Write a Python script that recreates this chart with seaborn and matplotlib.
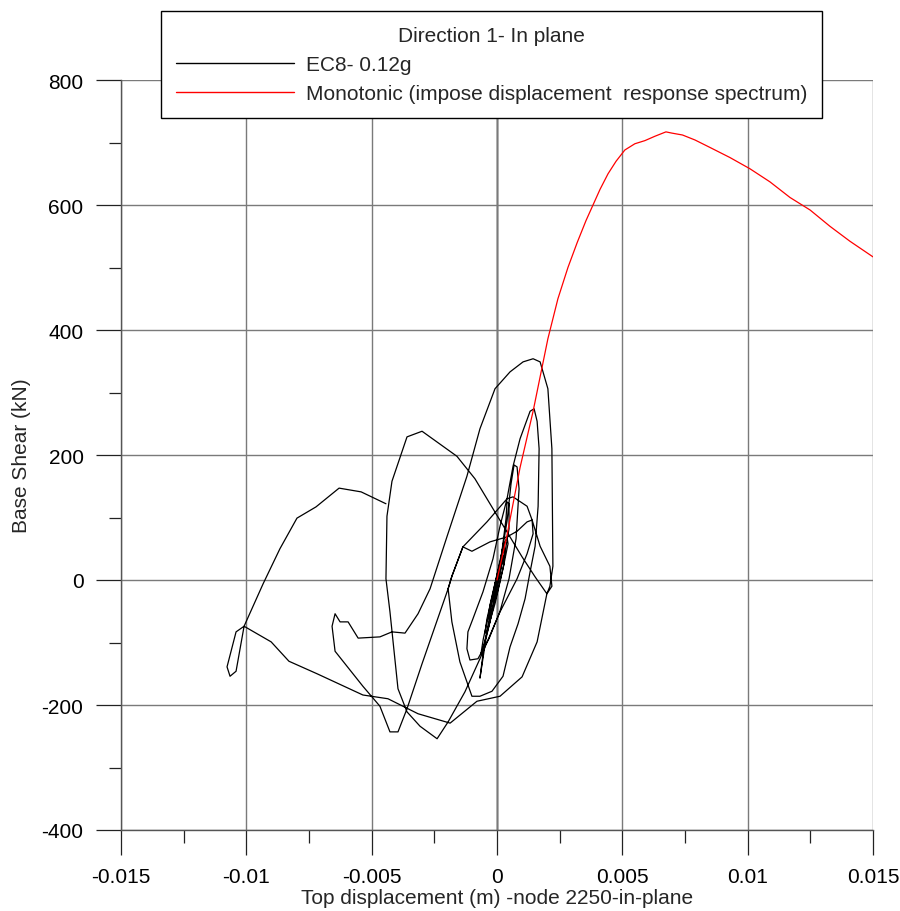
import numpy as np
import pandas as pd
import matplotlib
matplotlib.use("Agg")
import matplotlib.pyplot as plt
from matplotlib.ticker import FixedLocator, FixedFormatter, MultipleLocator
import seaborn as sns

# ---------------- data ----------------
# EC8 - 0.12g time-history response: top displacement (mm) and base shear (kN)
ec8_disp_mm = [
    0, 0.12, 0.20, 0.12, -0.08, -0.16, -0.12, 0.04, 0.24, 0.32, 0.28, 0, -0.28, -0.36, -0.28, -0.04,
    0.24, 0.40, 0.44, 0.24, -0.08, -0.40, -0.48, -0.40, -0.12, 0.16, 0.36, 0.40, 0.48, 0.48, 0.24,
    0.20, 0.30, 0.28, 0.0, -0.30, -0.60, -0.64, -0.55, -0.20, 0.10,
    -0.16, -0.44, -0.68,
    -0.52, -0.20, 0.12, 0.40, 0.56, 0.68, 0.80, 0.88, 0.76, 0.48, 0.12, -0.32, -0.76, -1.08, -1.20, -1.16,
    -0.96, -0.56, -0.16, 0.12, 0.40, 0.64, 0.92, 1.32, 1.48, 1.60, 1.68, 1.64, 1.52, 1.32, 1.12, 0.84,
    0.52, 0.24, -0.20, -0.68, -1.00, -1.48, -1.80, -1.95,
    -2.99, -3.59, -3.95, -4.27, -4.67, -5.35, -6.46, -6.58, -6.46, -6.26, -5.94, -5.54, -4.67, -4.19,
    -3.67, -3.15, -2.67,
    -1.99, -1.20, -0.68, -0.08, 0.52, 1.04, 1.44, 1.72, 2.03, 2.19, 2.23, 2.11, 1.99,
    1.52, 1.00, 0.32, -0.28, -0.88, -1.60, -2.99, -3.59, -4.19, -4.39, -4.43, -4.27, -3.95, -3.59,
    -3.07, -2.39, -1.95,
    -1.28, -0.68, 0.12, 0.80, 1.20, 1.44, 1.40,
    1.20, 0.80, 0.40, -0.28, -1.00, -1.36,
    -1.80, -1.95, -1.80, -1.36,
    -0.40, 0.40, 0.64, 1.20, 1.40, 1.72, 2.11, 2.19, 1.99,
    1.60, 1.00, 0.12, -0.80, -1.87,
    -3.15, -4.35, -5.35, -7.18, -8.30, -9.01, -10.09, -10.41, -10.77, -10.65, -10.41, -10.09, -9.33,
    -8.66, -7.98, -7.22, -6.30, -5.42, -4.43,
]
ec8_shear_kN = [
    0, 24, 30, 10, -24, -30, -14, 14, 46, 50, 26, -22, -59, -62, -40, 2,
    53, 69, 58, 18, -38, -82, -85, -62, -14, 34, 98, 125, 122, 82, 26,
    40, 60, 40, -10, -70, -115, -118, -95, -30, 25,
    -46, -94, -157,
    -107, -38, 26, 94, 154, 184, 181, 146, 66, 2, -50, -94, -126, -128, -110, -83,
    -62, -19, 34, 86, 130, 182, 226, 270, 274, 254, 210, 118, 54, 13, -30, -70,
    -107, -154, -178, -186, -186, -131, -67, -14,
    -134, -206, -243, -243, -202, -170, -114, -74, -54, -67, -67, -93, -91, -83,
    -85, -54, -14,
    70, 166, 242, 306, 333, 349, 354, 349, 306, 210, 22, -10, -22,
    5, 37, 82, 122, 162, 198, 238, 229, 158, 102, 2, -51, -174, -211,
    -234, -254, -227,
    -179, -126, -51, 2, 42, 74, 96,
    93, 78, 69, 61, 46, 53,
    6, -14, 6, 53,
    93, 130, 133, 118, 96, 54, 22, -10, -22,
    -99, -155, -186, -194, -229,
    -214, -190, -184, -150, -130, -99, -74, -83, -139, -154, -146, -74, -6,
    50, 99, 117, 147, 141, 122,
]

# Monotonic pushover (imposed displacement response spectrum)
mono_disp_mm = [0, 0.39, 0.92, 1.44, 2.03, 2.43, 2.83, 3.20, 3.55, 3.83, 4.11, 4.43, 4.75, 5.10,
                5.50, 5.90, 6.30, 6.74, 6.98, 7.40, 7.90, 8.50, 9.29, 10.09, 10.89, 11.69, 12.49,
                13.28, 14.08, 15.0]
mono_shear_kN = [0, 70, 180, 270, 386, 450, 500, 540, 575, 600, 625, 650, 670, 688,
                 698, 703, 710, 717, 715, 712, 704, 692, 676, 658, 637, 612, 592,
                 566, 542, 517]

x_ticks = [-0.015, -0.01, -0.005, 0, 0.005, 0.01, 0.015]
x_tick_labels = ["-0.015", "-0.01", "-0.005", "0", "0.005", "0.01", "0.015"]
y_ticks = [-400, -200, 0, 200, 400, 600, 800]
y_tick_labels = ["-400", "-200", "0", "200", "400", "600", "800"]

series_names = ["EC8- 0.12g", "Monotonic (impose displacement  response spectrum)"]
legend_title = "Direction 1- In plane"

# ---------------- styling ----------------
sns.set_theme(style="white")
plt.rcParams["font.family"] = ["Liberation Sans", "DejaVu Sans"]
plt.rcParams["axes.unicode_minus"] = False

FS = 15

fig = plt.figure(figsize=(9.0, 9.12), dpi=100)
ax = fig.add_axes([121 / 900, 1 - 831 / 912, 752 / 900, 750 / 912])

ec8 = pd.DataFrame({"disp": np.array(ec8_disp_mm) / 1000.0, "shear": ec8_shear_kN})
mono = pd.DataFrame({"disp": np.array(mono_disp_mm) / 1000.0, "shear": mono_shear_kN})

ax.set_xlim(-0.015, 0.015)
ax.set_ylim(-400, 800)
ax.xaxis.set_major_locator(FixedLocator(x_ticks))
ax.xaxis.set_major_formatter(FixedFormatter(x_tick_labels))
ax.yaxis.set_major_locator(FixedLocator(y_ticks))
ax.yaxis.set_major_formatter(FixedFormatter(y_tick_labels))
ax.xaxis.set_minor_locator(MultipleLocator(0.0025))
ax.yaxis.set_minor_locator(MultipleLocator(100))
ax.grid(True, which="major", color="#7a7a7a", linewidth=1.0)
ax.set_axisbelow(True)
for xv in x_ticks:
    if xv == 0:
        ax.axvline(xv, color="#b8b8b8", linewidth=2.0, zorder=0.5)

sns.lineplot(data=ec8, x="disp", y="shear", sort=False, estimator=None, ax=ax,
             color="black", linewidth=0.9, label=series_names[0])
sns.lineplot(data=mono, x="disp", y="shear", sort=False, estimator=None, ax=ax,
             color="red", linewidth=0.9, label=series_names[1])

for s in ["top", "right"]:
    ax.spines[s].set_visible(False)
for s in ["left", "bottom"]:
    ax.spines[s].set_color("#555555")
    ax.spines[s].set_linewidth(1.0)

ax.tick_params(axis="both", which="major", direction="out", length=18, width=0.9,
               color="#222222", labelsize=FS, labelcolor="black", bottom=True, left=True)
ax.tick_params(axis="both", which="minor", direction="out", length=9, width=0.9,
               color="#222222", bottom=True, left=True)
ax.tick_params(axis="x", which="major", pad=9)
ax.tick_params(axis="y", which="major", pad=9)

ax.set_xlabel("Top displacement (m) -node 2250-in-plane", fontsize=FS, labelpad=1)
ax.set_ylabel("Base Shear (kN)", fontsize=FS)
ax.yaxis.set_label_coords(-0.12, 0.5)

leg = ax.legend(title=legend_title, loc="upper left",
                bbox_to_anchor=(161 / 900, 1 - 12 / 912), bbox_transform=fig.transFigure,
                borderaxespad=0, fontsize=FS, title_fontsize=FS, frameon=True,
                fancybox=False, edgecolor="black", framealpha=1, handlelength=5.7,
                handletextpad=0.58, borderpad=0.7, labelspacing=0.5)
leg.get_frame().set_linewidth(1.0)
for line in leg.get_lines():
    line.set_linewidth(1.0)

fig.savefig("out.png", dpi=100)
